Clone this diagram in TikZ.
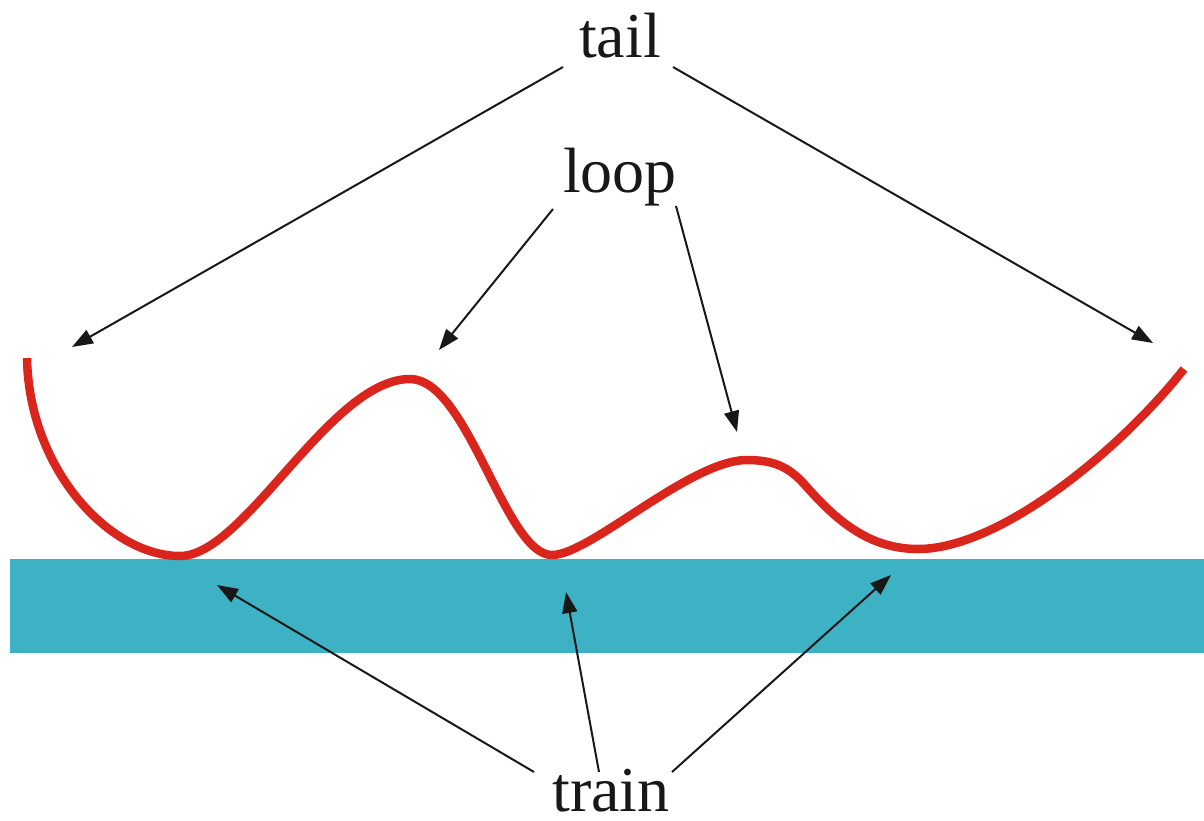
\documentclass[tikz,border=0pt]{standalone}
\usepackage{fontspec}
\setmainfont{Liberation Serif}
\usetikzlibrary{arrows.meta}
\definecolor{wavered}{HTML}{DA251D}
\definecolor{surface}{HTML}{3DB2C4}
\definecolor{ink}{HTML}{1A1717}
\tikzset{
  lbl/.style={inner sep=0pt, anchor=base, font=\fontsize{64}{70}\selectfont, text=ink},
  pointer/.style={draw=ink, line width=2pt, -{Triangle[length=21pt,width=15pt]}},
  chain/.style={draw=wavered, line width=8.5pt}
}
\begin{document}
\begin{tikzpicture}[x=1pt,y=-1pt]
\useasboundingbox (0,0) rectangle (1204,820);
% surface
\fill[surface] (10,559) rectangle (1204,653);
% polymer chain
\draw[chain] (27,358) .. controls (29,470) and (110,556) .. (180,556)
  .. controls (245,556) and (330,379) .. (410,379)
  .. controls (468,379) and (505,555) .. (552,555)
  .. controls (590,555) and (690,460) .. (747,460)
  .. controls (775,460) and (790,468) .. (805,485)
  .. controls (835,519) and (868,549) .. (918,549)
  .. controls (1000,549) and (1120,450) .. (1184,369);
% labels
\node[lbl] (tail) at (620,57) {tail};
\node[lbl] (loop) at (620,192) {loop};
\node[lbl] (train) at (611,811) {train};
% tips
\coordinate (tipTL) at (72,347);
\coordinate (tipTR) at (1153,343);
\coordinate (tipLL) at (439,350);
\coordinate (tipLR) at (737,432);
\coordinate (tipRL) at (217,585);
\coordinate (tipRM) at (566,592);
\coordinate (tipRR) at (891,575);
% arrows
\draw[pointer] ([shift={(-57,10)}]tail.base) -- (tipTL);
\draw[pointer] ([shift={(53,10)}]tail.base) -- (tipTR);
\draw[pointer] ([shift={(-67,17)}]loop.base) -- (tipLL);
\draw[pointer] ([shift={(56,14)}]loop.base) -- (tipLR);
\draw[pointer] ([shift={(-77,-39)}]train.base) -- (tipRL);
\draw[pointer] ([shift={(-12,-39)}]train.base) -- (tipRM);
\draw[pointer] ([shift={(61,-39)}]train.base) -- (tipRR);
\end{tikzpicture}
\end{document}
